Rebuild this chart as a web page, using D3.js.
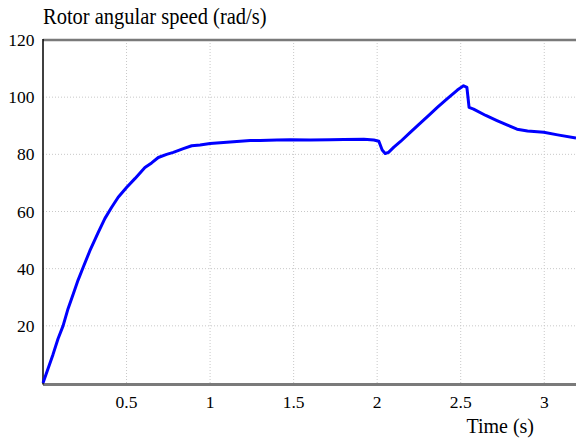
<!DOCTYPE html>
<html>
<head>
<meta charset="utf-8">
<script src="https://cdn.jsdelivr.net/npm/d3@7"></script>
<style>
  html, body { margin: 0; padding: 0; background: #fff; }
  svg { display: block; }
</style>
</head>
<body>
<svg id="chart" width="576" height="441"></svg>
<script>
const timeValues = [0, 0.03, 0.06, 0.09, 0.12, 0.15, 0.18, 0.21, 0.24, 0.28, 0.33, 0.37, 0.41, 0.45, 0.5, 0.55, 0.61, 0.65, 0.69, 0.74, 0.78, 0.84, 0.89, 0.94, 1.0, 1.1, 1.24, 1.3, 1.4, 1.48, 1.6, 1.72, 1.8, 1.92, 1.98, 2.01, 2.03, 2.048, 2.068, 2.1, 2.14, 2.198, 2.25, 2.317, 2.36, 2.42, 2.48, 2.517, 2.537, 2.55, 2.577, 2.65, 2.717, 2.78, 2.837, 2.9, 2.997, 3.08, 3.19];
const speedValues = [0, 5, 10, 15.5, 20, 26, 31, 36, 40.4, 46.2, 52.6, 57.5, 61.4, 65, 68.4, 71.5, 75.4, 77, 78.9, 80, 80.7, 82, 83, 83.3, 83.8, 84.2, 84.8, 84.8, 85, 85.1, 85, 85.1, 85.2, 85.3, 85, 84.6, 81.5, 80.3, 80.7, 82.5, 84.5, 87.7, 90.5, 94.1, 96.4, 99.5, 102.5, 104, 103.4, 96.4, 95.8, 93.6, 91.8, 90.2, 88.8, 88.2, 87.7, 86.8, 85.7];
const xTickValues = [0.5, 1, 1.5, 2, 2.5, 3];
const xTickLabels = ["0.5", "1", "1.5", "2", "2.5", "3"];
const yTickValues = [20, 40, 60, 80, 100, 120];
const yTickLabels = ["20", "40", "60", "80", "100", "120"];
const titleText = "Rotor angular speed (rad/s)";
const xLabelText = "Time (s)";

(function () {
const FONT = "'Liberation Serif', 'Times New Roman', serif";
const svg = d3.select("#chart");
const mLeft = 43, mRight = 576, mTop = 40, mBottom = 383;

const x = d3.scaleLinear().domain([0, 3.19]).range([mLeft, mRight]);
const y = d3.scaleLinear().domain([0, 120]).range([mBottom, mTop]);

// grid
const grid = svg.append("g");
grid.selectAll("line.vg").data(xTickValues).enter().append("line")
  .attr("x1", d => x(d)).attr("x2", d => x(d))
  .attr("y1", mTop).attr("y2", mBottom)
  .attr("stroke", "#c8c8c8").attr("stroke-width", 1).attr("stroke-dasharray", "1,2");
grid.selectAll("line.hg").data(yTickValues.filter(v => v < 120)).enter().append("line")
  .attr("x1", mLeft).attr("x2", mRight)
  .attr("y1", d => y(d)).attr("y2", d => y(d))
  .attr("stroke", "#c8c8c8").attr("stroke-width", 1).attr("stroke-dasharray", "1,2");

// frame
svg.append("line").attr("x1", mLeft).attr("x2", mRight).attr("y1", mTop).attr("y2", mTop)
  .attr("stroke", "#7a7a7a").attr("stroke-width", 2.5);
svg.append("line").attr("x1", mLeft).attr("x2", mRight).attr("y1", mBottom + 1.5).attr("y2", mBottom + 1.5)
  .attr("stroke", "#7a7a7a").attr("stroke-width", 3);
svg.append("line").attr("x1", mLeft).attr("x2", mLeft).attr("y1", mTop - 1).attr("y2", mBottom + 1.5)
  .attr("stroke", "#000").attr("stroke-width", 1.5);

// tick labels
svg.append("g").selectAll("text").data(xTickValues).enter().append("text")
  .attr("x", d => x(d)).attr("y", mBottom + 25).attr("text-anchor", "middle")
  .style("font-family", FONT).style("font-size", "17.5px").style("fill", "#000")
  .text((d, i) => xTickLabels[i]);
svg.append("g").selectAll("text").data(yTickValues).enter().append("text")
  .attr("x", mLeft - 8.5).attr("y", d => y(d) + 6).attr("text-anchor", "end")
  .style("font-family", FONT).style("font-size", "17.5px").style("fill", "#000")
  .text((d, i) => yTickLabels[i]);

// line
const line = d3.line().x((d, i) => x(timeValues[i])).y(d => y(d));
svg.append("path").datum(speedValues)
  .attr("d", line).attr("fill", "none")
  .attr("stroke", "#0000ff").attr("stroke-width", 3).attr("stroke-linejoin", "round");

// titles (slightly stretched vertically as in the reference)
svg.append("text").attr("transform", "translate(43,24) scale(1,1.1)")
  .style("font-family", FONT).style("font-size", "20.5px").style("fill", "#000").text(titleText);
svg.append("text").attr("transform", "translate(534,433) scale(1,1.1)").attr("text-anchor", "end")
  .style("font-family", FONT).style("font-size", "20px").style("fill", "#000").text(xLabelText);
})();
</script>
</body>
</html>
